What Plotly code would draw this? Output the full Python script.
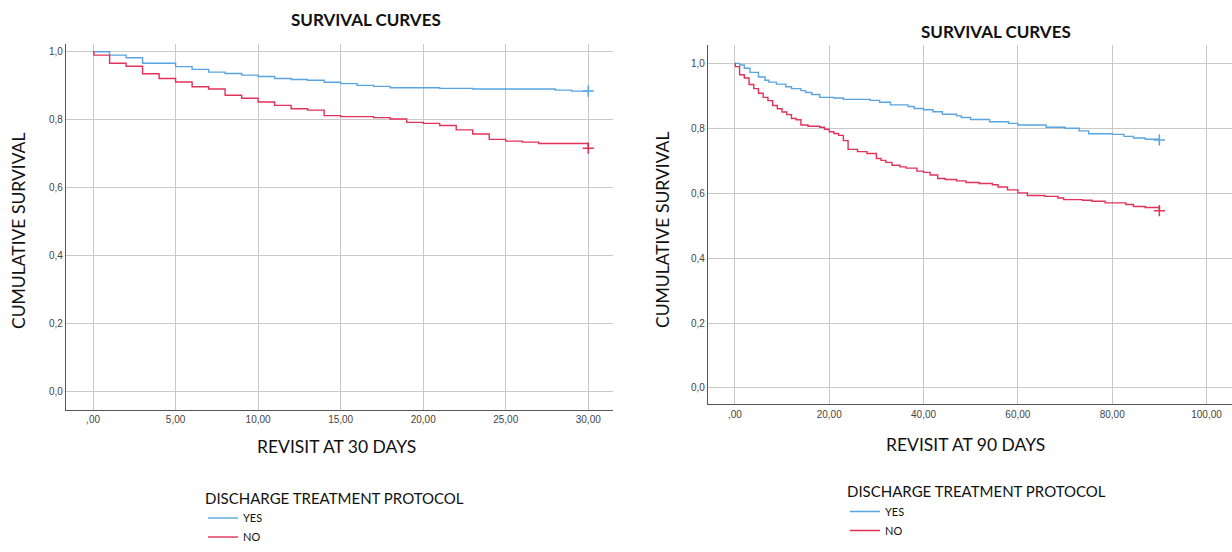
import plotly.graph_objects as go

# ---------------- data: 30-day revisit ----------------
t30_yes = [0, 1, 2, 3, 5, 6, 7, 8, 9, 10, 11, 12, 13, 14, 15, 16, 17, 18, 21, 23, 28, 29, 30]
s30_yes = [1.0, 0.990, 0.982, 0.966, 0.956, 0.948, 0.940, 0.936, 0.931, 0.927, 0.921, 0.918,
           0.916, 0.910, 0.906, 0.901, 0.898, 0.894, 0.892, 0.890, 0.887, 0.884, 0.884]

t30_no = [0, 0.05, 1, 2, 3, 4, 5, 6, 7, 8, 9, 10, 11, 12, 13, 14, 15, 17, 18, 19, 20, 21,
          22, 23, 24, 25, 26, 27, 30]
s30_no = [1.0, 0.990, 0.966, 0.957, 0.935, 0.921, 0.911, 0.897, 0.890, 0.872, 0.863, 0.852,
          0.842, 0.832, 0.828, 0.812, 0.809, 0.806, 0.802, 0.792, 0.789, 0.783, 0.770, 0.758,
          0.742, 0.737, 0.734, 0.730, 0.716]

# ---------------- data: 90-day revisit ----------------
t90_yes = [0, 1, 2, 3.2, 5, 6.4, 7.2, 8.8, 10.8, 12, 14, 15, 16.3, 18, 21, 23, 28.7, 30.7,
           33, 36.7, 38, 40, 42, 44, 47, 48, 50, 54, 58, 60, 66, 70, 73, 75, 80, 82.5, 84.5,
           87, 90]
s90_yes = [1.0, 0.995, 0.985, 0.972, 0.958, 0.948, 0.942, 0.936, 0.928, 0.922, 0.916, 0.910,
           0.904, 0.895, 0.893, 0.889, 0.886, 0.880, 0.872, 0.867, 0.861, 0.857, 0.851, 0.843,
           0.838, 0.833, 0.827, 0.820, 0.815, 0.810, 0.803, 0.800, 0.792, 0.783, 0.781, 0.775,
           0.770, 0.766, 0.764]

t90_no = [0, 0.1, 1, 2, 3, 4, 5, 6, 7, 8, 9, 10, 11, 12, 13, 14, 15.5, 18, 19, 20, 21, 22, 23,
          24, 26, 28, 30, 31, 32, 33.3, 35, 36.3, 38.6, 40, 41.4, 43, 44.6, 47, 49, 51.8, 54.6,
          55.8, 57.8, 60, 62, 65.7, 68.5, 69.7, 73.7, 75.7, 78.5, 82.9, 84.5, 87, 90]
s90_no = [1.0, 0.990, 0.965, 0.955, 0.935, 0.922, 0.908, 0.895, 0.885, 0.870, 0.860, 0.850,
          0.842, 0.830, 0.826, 0.810, 0.806, 0.803, 0.797, 0.789, 0.784, 0.778, 0.762, 0.735,
          0.728, 0.722, 0.707, 0.701, 0.695, 0.686, 0.681, 0.677, 0.668, 0.664, 0.656, 0.645,
          0.642, 0.638, 0.633, 0.630, 0.626, 0.619, 0.610, 0.601, 0.593, 0.590, 0.585, 0.580,
          0.578, 0.575, 0.570, 0.565, 0.559, 0.556, 0.546]

y_ticks = [0.0, 0.2, 0.4, 0.6, 0.8, 1.0]
y_ticktext = ["0,0", "0,2", "0,4", "0,6", "0,8", "1,0"]
x30_ticks = [0, 5, 10, 15, 20, 25, 30]
x30_ticktext = [",00", "5,00", "10,00", "15,00", "20,00", "25,00", "30,00"]
x90_ticks = [0, 20, 40, 60, 80, 100]
x90_ticktext = [",00", "20,00", "40,00", "60,00", "80,00", "100,00"]

groups = ["YES", "NO"]
BLUE = "#5aa5e0"
RED = "#e2325a"
TITLE_FONT = "Lato"
TICK_FONT = "Liberation Sans, Arial, sans-serif"

fig = go.Figure()


def add_curve(t, s, name, color, xa, ya, legend, show):
    fig.add_trace(go.Scatter(
        x=t, y=s, mode="lines", line=dict(color=color, width=1.4, shape="hv"),
        name=name, xaxis=xa, yaxis=ya, legend=legend, showlegend=show,
        hoverinfo="x+y"))
    fig.add_trace(go.Scatter(
        x=[t[-1]], y=[s[-1]], mode="markers",
        marker=dict(symbol="cross-thin", size=8, line=dict(color=color, width=1.5)),
        xaxis=xa, yaxis=ya, showlegend=False, hoverinfo="skip"))


add_curve(t30_yes, s30_yes, groups[0], BLUE, "x", "y", "legend", True)
add_curve(t30_no, s30_no, groups[1], RED, "x", "y", "legend", True)
add_curve(t90_yes, s90_yes, groups[0], BLUE, "x2", "y2", "legend2", True)
add_curve(t90_no, s90_no, groups[1], RED, "x2", "y2", "legend2", True)

W, H = 1232, 552


def px_x(p):
    return p / W


def px_y(p):
    return 1 - p / H


axis_common = dict(
    showgrid=True, gridcolor="#c9c9c9", gridwidth=1.2, zeroline=False,
    showline=True, linecolor="#555555", linewidth=1.2, ticks="",
    tickfont=dict(family=TICK_FONT, size=10, color="#444444"),
)

fig.update_layout(
    width=W, height=H,
    margin=dict(l=0, r=0, t=0, b=0),
    paper_bgcolor="white", plot_bgcolor="white",
    xaxis=dict(domain=[px_x(66), px_x(613)], range=[-1.64, 31.5], anchor="y",
               tickvals=x30_ticks, ticktext=x30_ticktext, **axis_common),
    yaxis=dict(domain=[px_y(421), px_y(45)], range=[-0.055, 1.023], anchor="x",
               tickvals=y_ticks, ticktext=y_ticktext, **axis_common),
    xaxis2=dict(domain=[px_x(708), 1.0], range=[-5.7, 105.4], anchor="y2",
                tickvals=x90_ticks, ticktext=x90_ticktext, **axis_common),
    yaxis2=dict(domain=[px_y(415), px_y(46)], range=[-0.051, 1.057], anchor="x2",
                tickvals=y_ticks, ticktext=y_ticktext, **axis_common),
    legend=dict(
        x=px_x(203), y=px_y(497), xanchor="left", yanchor="top",
        title=dict(text="DISCHARGE TREATMENT PROTOCOL", side="top",
                   font=dict(family=TITLE_FONT, size=15, color="#111111")),
        font=dict(family=TITLE_FONT, size=11, color="#111111"),
        bgcolor="rgba(0,0,0,0)", tracegroupgap=0, itemwidth=30),
    legend2=dict(
        x=px_x(845), y=px_y(490), xanchor="left", yanchor="top",
        title=dict(text="DISCHARGE TREATMENT PROTOCOL", side="top",
                   font=dict(family=TITLE_FONT, size=15, color="#111111")),
        font=dict(family=TITLE_FONT, size=11, color="#111111"),
        bgcolor="rgba(0,0,0,0)", tracegroupgap=0, itemwidth=30),
    showlegend=True,
)

annots = [
    dict(text="<b>SURVIVAL CURVES</b>", x=px_x(366), y=px_y(20), size=17),
    dict(text="<b>SURVIVAL CURVES</b>", x=px_x(996), y=px_y(32), size=17),
    dict(text="REVISIT AT 30 DAYS", x=px_x(336), y=px_y(458), size=17.5),
    dict(text="REVISIT AT 90 DAYS", x=px_x(965), y=px_y(456), size=17.5),
]
for a in annots:
    fig.add_annotation(text=a["text"], x=a["x"], y=a["y"], xref="paper", yref="paper",
                       xanchor="center", yanchor="middle", showarrow=False,
                       font=dict(family=TITLE_FONT, size=a["size"], color="#111111"))
for xp, yp in [(19, 237), (662, 236)]:
    fig.add_annotation(text="CUMULATIVE SURVIVAL", x=px_x(xp), y=px_y(yp), xref="paper",
                       yref="paper", xanchor="center", yanchor="middle", showarrow=False,
                       textangle=-90,
                       font=dict(family=TITLE_FONT, size=17.5, color="#111111"))

# remove the default 8px page margin so the figure fills the window exactly
fig.write_html(
    "out.html",
    config={"displayModeBar": False},
    post_script="document.body.style.margin='0';document.body.style.overflow='hidden';",
)
